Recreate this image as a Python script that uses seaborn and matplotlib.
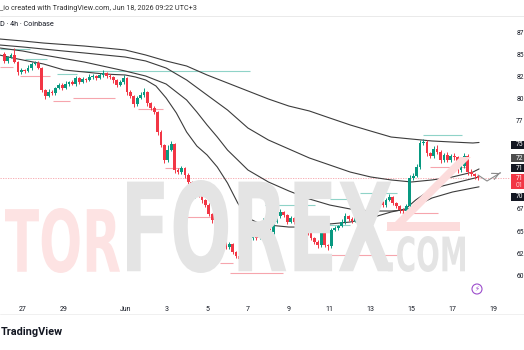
import numpy as np
import pandas as pd
import matplotlib
matplotlib.use("Agg")
import matplotlib.pyplot as plt
import seaborn as sns
from matplotlib.textpath import TextPath
from matplotlib.font_manager import FontProperties
from matplotlib.patches import PathPatch, Rectangle, Polygon, Circle
from matplotlib.transforms import Affine2D, IdentityTransform
from matplotlib.lines import Line2D

# ---------------- data (x in days since May 27 00:00, 4h candles start May 26 00:00) ----------
first_open = 85.11
closes = [
    84.32, 84.77, 85.00, 84.20, 83.07, 83.30, 83.18, 83.52, 83.98, 84.09,
    83.52, 81.02, 80.34, 80.80, 80.68, 81.25, 81.59, 81.25, 81.70, 81.93,
    81.70, 82.39, 81.93, 82.27, 82.16, 82.50, 82.61, 82.39, 82.73, 82.95,
    82.61, 82.50, 82.16, 81.59, 81.93, 82.39, 80.80, 80.34, 79.43, 80.11,
    80.45, 80.80, 79.55, 78.98, 78.52, 76.25, 74.77, 73.07, 74.20, 74.89,
    71.93, 71.70, 72.16, 71.36, 70.57, 68.98, 69.43, 69.09, 68.52, 67.95,
    66.93, 66.25, 65.80, 64.43, 63.98, 63.18, 63.52, 62.61, 62.16, 61.82,
    62.16, 63.41, 64.20, 64.43, 64.20, 64.89, 66.14, 65.11, 64.89, 66.02,
    66.70, 67.16, 66.82, 66.02, 66.48, 66.02, 64.43, 64.20, 65.34, 64.77,
    64.20, 63.75, 63.41, 65.23, 63.41, 63.30, 65.11, 65.34, 65.57, 66.02,
    66.70, 66.36, 66.14, 66.70, 66.93, 67.16, 66.93, 67.27, 67.61, 67.95,
    68.30, 67.95, 68.52, 68.86, 68.18, 67.84, 67.39, 67.27, 67.84, 71.02,
    71.25, 72.27, 75.00, 75.11, 73.86, 73.52, 74.32, 73.98, 73.07, 73.64,
    73.07, 73.52, 73.41, 71.93, 72.39, 73.52, 71.70, 71.48, 71.25, 71.02,
]
upper_wick = [
    0.25, 0.15, 0.20, 0.80, 0.15, 0.20, 0.15, 0.30, 0.20, 0.25,
    0.20, 0.15, 0.10, 0.30, 0.20, 0.15, 0.25, 0.20, 0.30, 0.15,
    0.20, 0.25, 0.15, 0.20, 0.15, 0.30, 0.20, 0.15, 0.25, 0.35,
    0.15, 0.20, 0.10, 0.15, 0.25, 0.30, 0.15, 0.20, 0.10, 0.25,
    0.35, 0.45, 0.15, 0.10, 0.20, 0.15, 0.20, 0.10, 0.55, 0.35,
    0.15, 0.20, 0.25, 0.15, 0.20, 0.15, 0.30, 0.20, 0.15, 0.10,
    0.20, 0.15, 0.10, 0.20, 0.15, 0.20, 0.25, 0.15, 0.10, 0.20,
    0.30, 0.25, 0.20, 0.15, 0.20, 0.25, 0.30, 0.15, 0.20, 0.30,
    0.25, 0.35, 0.15, 0.10, 0.25, 0.15, 0.10, 0.20, 0.30, 0.15,
    0.10, 0.15, 0.20, 0.35, 0.10, 0.15, 0.20, 0.25, 0.15, 0.30,
    0.30, 0.15, 0.20, 0.25, 0.20, 0.25, 0.15, 0.20, 0.30, 0.25,
    0.30, 0.15, 0.20, 0.35, 0.10, 0.15, 0.10, 0.20, 0.25, 0.30,
    0.35, 0.40, 0.30, 0.35, 0.20, 0.15, 0.30, 0.40, 0.20, 0.25,
    0.30, 0.25, 0.35, 0.15, 0.45, 0.40, 0.20, 0.30, 0.15, 0.10,
]
lower_wick = [
    0.20, 0.25, 0.15, 0.15, 0.30, 0.20, 0.25, 0.15, 0.20, 0.15,
    0.15, 0.20, 0.30, 0.15, 0.20, 0.25, 0.15, 0.20, 0.15, 0.25,
    0.15, 0.20, 0.25, 0.15, 0.20, 0.15, 0.20, 0.25, 0.15, 0.20,
    0.25, 0.20, 0.30, 0.25, 0.15, 0.20, 0.35, 0.20, 0.30, 0.20,
    0.15, 0.20, 0.30, 0.25, 0.20, 0.30, 0.25, 0.30, 0.20, 0.15,
    0.30, 0.25, 0.20, 0.30, 0.25, 0.35, 0.20, 0.25, 0.30, 0.20,
    0.25, 0.30, 0.20, 0.25, 0.30, 0.20, 0.25, 0.20, 0.25, 0.30,
    0.45, 0.20, 0.15, 0.25, 0.20, 0.15, 0.20, 0.25, 0.30, 0.20,
    0.15, 0.20, 0.25, 0.20, 0.15, 0.25, 0.20, 0.30, 0.15, 0.25,
    0.20, 0.25, 0.30, 0.20, 0.25, 0.45, 0.20, 0.15, 0.20, 0.15,
    0.20, 0.25, 0.20, 0.15, 0.20, 0.15, 0.25, 0.20, 0.15, 0.20,
    0.15, 0.25, 0.20, 0.15, 0.20, 0.25, 0.30, 0.50, 0.20, 0.15,
    0.20, 0.15, 0.20, 0.25, 0.30, 0.25, 0.20, 0.25, 0.30, 0.20,
    0.25, 0.20, 0.30, 0.35, 0.25, 0.20, 0.30, 0.25, 0.30, 0.20,
]

# moving-average lines (day, price)
ema_a_day = [-1.15, 0, 1, 2, 3, 4, 5, 6, 7, 8, 9, 10, 11, 12, 13, 14, 15, 16, 17, 18, 19, 20, 21, 22, 22.3]
ema_a_val = [86.82, 86.59, 86.36, 86.19, 86.02, 85.80, 85.57, 85.00, 84.32, 83.75, 82.73, 81.82, 80.91,
             80.00, 79.20, 78.64, 77.84, 77.05, 76.36, 75.68, 75.45, 75.23, 75.11, 75.00, 75.06]
ema_b_day = [-1.15, 0, 1, 2, 3, 4, 5, 6, 7, 8, 9, 10, 11, 12, 13, 14, 15, 16, 17, 18, 19, 20, 21, 22, 22.3]
ema_b_val = [86.14, 85.91, 85.68, 85.45, 85.23, 85.00, 84.77, 84.32, 83.52, 82.16, 80.45, 78.75, 76.70,
             75.34, 74.32, 73.30, 72.50, 71.70, 71.14, 70.80, 70.57, 70.80, 71.14, 71.70, 72.05]
ema_c_day = [-1.15, 0, 1, 2, 3, 4, 5, 6, 7, 8, 8.5, 9, 9.5, 10, 10.5, 11, 12, 13, 14, 15, 16, 17, 18,
             18.7, 19.2, 20, 21, 22, 22.3]
ema_c_val = [85.80, 85.45, 85.00, 84.60, 84.20, 83.69, 83.18, 82.61, 81.70, 79.89, 78.52, 77.05, 75.68,
             74.20, 73.07, 71.93, 70.57, 69.55, 68.64, 67.95, 67.50, 67.27, 67.27, 67.39, 67.84, 68.75,
             69.43, 69.89, 70.02]
ema_d_day = [-1.15, -0.5, 0, 0.5, 1, 1.5, 2, 2.5, 3, 3.5, 4, 4.5, 5, 5.5, 6, 6.5, 7, 7.5, 8, 8.5, 9,
             9.5, 10, 10.5, 11, 11.5, 12, 13, 14, 14.5, 15, 16, 17, 18, 18.7, 19.2, 19.7, 20.5, 21.5, 22.3]
ema_d_val = [85.00, 84.66, 84.43, 84.20, 83.98, 83.64, 83.30, 83.18, 83.07, 82.95, 82.84, 82.78, 82.73,
             82.50, 82.16, 81.48, 80.11, 78.41, 76.25, 74.66, 73.64, 72.27, 70.45, 68.18, 66.48, 65.91,
             65.68, 65.45, 65.45, 65.57, 65.80, 66.02, 66.48, 67.16, 67.50, 68.52, 69.32, 70.11, 70.68,
             71.14]

# horizontal high / low levels (start day, end day, price)
high_levels = [(-1.13, 0.34, 85.72), (0.10, 1.17, 84.55), (1.66, 2.64, 82.84), (2.64, 11.10, 83.18),
               (11.25, 11.83, 66.02), (11.83, 14.28, 67.95), (14.52, 16.00, 65.68),
               (15.00, 16.48, 68.64), (16.48, 18.29, 69.32), (19.56, 21.46, 75.91)]
low_levels = [(-1.13, -0.49, 83.64), (-0.15, 1.32, 82.61), (1.47, 2.30, 79.77), (2.44, 4.50, 80.11),
              (5.62, 6.85, 78.86), (6.94, 7.68, 72.16), (7.92, 9.14, 66.59), (9.63, 10.27, 61.36),
              (10.12, 12.71, 60.23), (14.77, 18.29, 62.27), (18.53, 20.29, 67.05), (19.90, 21.76, 72.27)]

x_tick_days = [0, 2, 5, 7, 9, 11, 13, 15, 17, 19, 21, 23]
x_tick_labels = ["27", "29", "Jun", "3", "5", "7", "9", "11", "13", "15", "17", "19"]
y_ticks = [60.0, 62.5, 65.0, 67.5, 77.5, 80.0, 82.5, 85.0, 87.5]

# ---------------- figure ----------------
sns.set_theme(style="white")
plt.rcParams["font.family"] = ["Roboto", "DejaVu Sans"]

W, H = 524, 350
fig = plt.figure(figsize=(W / 100, H / 100), dpi=100)
fig.patch.set_facecolor("white")
ax = fig.add_axes([0, 50 / H, 510 / W, 283 / H])
ax.set_facecolor("none")
X0 = -1.125
X1 = X0 + 510 / 20.45
ax.set_xlim(X0, X1)
ax.set_ylim(91.25 - 300 / 8.8, 91.25 - 17 / 8.8)
for s in ax.spines.values():
    s.set_visible(False)
ax.grid(False)

PX = IdentityTransform()

def fy(y):
    return H - y

# watermark (behind everything)
def fit_text(s, x0, x1, ytop, ybot, color, z=0.3):
    fp = FontProperties(family="DejaVu Sans", weight="bold")
    tp = TextPath((0, 0), s, size=100, prop=fp)
    bb = tp.get_extents()
    tr = Affine2D().translate(-bb.x0, -bb.y0).scale((x1 - x0) / bb.width, (ybot - ytop) / bb.height) \
        .translate(x0, fy(ybot))
    patch = PathPatch(tr.transform_path(tp), fc=color, ec="none", transform=PX, zorder=z)
    fig.add_artist(patch)

fit_text("TOR", 5, 120, 208, 273, "#fde3e3")
fit_text("FOREX", 127, 392, 180, 273, "#e4e4e4")
fit_text(".COM", 388, 465, 236, 272, "#e4e4e4")
fig.add_artist(Polygon([(387, fy(222)), (460, fy(222)), (460, fy(231)), (387, fy(231))],
                       closed=True, fc="#fcdcdc", ec="none", transform=PX, zorder=0.35))
fig.add_artist(Polygon([(386, fy(231)), (397, fy(231)), (471, fy(157)), (460, fy(157))],
                       closed=True, fc="#fcdcdc", ec="none", transform=PX, zorder=0.35))

# last price dotted line
last_close = closes[-1]
ax.axhline(last_close, color="#f7a1a8", lw=0.6, ls=(0, (1.5, 1.5)), zorder=1)

# levels
for a, b, v in high_levels:
    ax.hlines(v, a, b, color="#8fd3c8", lw=0.8, zorder=1.5)
for a, b, v in low_levels:
    ax.hlines(v, a, b, color="#f6a5ad", lw=0.8, zorder=1.5)

# moving averages via seaborn
for dd, vv in [(ema_a_day, ema_a_val), (ema_b_day, ema_b_val), (ema_c_day, ema_c_val), (ema_d_day, ema_d_val)]:
    df = pd.DataFrame({"day": dd, "val": vv})
    sns.lineplot(data=df, x="day", y="val", ax=ax, color="#3c3c3c", lw=0.8, sort=False,
                 estimator=None, zorder=2)

# candles
n = len(closes)
opens = [first_open] + closes[:-1]
xs = np.array([-1 + i / 6 + 1 / 12 for i in range(n)])
o = np.array(opens); c = np.array(closes)
hi = np.maximum(o, c) + np.array(upper_wick)
lo = np.minimum(o, c) - np.array(lower_wick)
cols = np.where(c >= o, "#089981", "#f23645")
ax.vlines(xs, lo, hi, colors=cols, lw=0.7, zorder=3)
body = np.where(np.abs(c - o) < 0.07, 0.07, c - o)
ax.bar(xs, body, bottom=o, width=0.135, color=cols, edgecolor="none", zorder=4)

# projection arrow drawing
ax.plot([22.25, 22.69, 23.35], [71.36, 70.68, 71.62], color="#8a8a8a", lw=0.8, zorder=3)
ax.annotate("", xy=(23.45, 71.72), xytext=(23.2, 71.45),
            arrowprops=dict(arrowstyle="->", color="#8a8a8a", lw=0.8))

# axes ticks (right-hand price scale is cut by the image edge: only the integer part shows)
ax.set_xticks(x_tick_days)
ax.set_xticklabels(x_tick_labels)
ax.tick_params(axis="x", length=0, pad=4, labelsize=5, labelcolor="#131722")
ax.yaxis.tick_right()
ax.set_yticks(y_ticks)
ax.set_yticklabels([f"{int(v)}" for v in y_ticks])
ax.tick_params(axis="y", length=0, pad=4.5, labelsize=4.8, labelcolor="#131722")
for t in ax.get_yticklabels():
    t.set_horizontalalignment("left")
ax.set_xlabel("")
ax.set_ylabel("")

# price boxes on the right
boxes = [(145, f"{int(ema_a_val[-1])}", "#131722"), (158, f"{int(ema_b_val[-1])}", "#4d4d4d"),
         (168, f"{int(ema_d_val[-1])}", "#131722"), (196.5, f"{int(ema_c_val[-1])}", "#131722")]
for yc, txt, colr in boxes:
    fig.add_artist(Rectangle((511, fy(yc + 4)), 20, 8, fc=colr, ec="none", transform=PX, zorder=6))
    fig.text(515.5, fy(yc), txt, transform=PX, color="white", fontsize=4.8, va="center", ha="left", zorder=7)
fig.add_artist(Rectangle((511, fy(189)), 20, 15, fc="#f23645", ec="none", transform=PX, zorder=6))
fig.text(515.5, fy(178), f"{int(last_close)}", transform=PX, color="white", fontsize=4.8, va="center", zorder=7)
fig.text(515.5, fy(185.5), "01", transform=PX, color="#ffd0d4", fontsize=4.8, va="center", zorder=7)

# header and footer
fig.add_artist(Line2D([0, W], [fy(16), fy(16)], color="#e6e6e6", lw=0.6, transform=PX))
fig.add_artist(Line2D([0, W], [fy(314), fy(314)], color="#eeeeee", lw=0.6, transform=PX))
fig.text(0.5, fy(8), "_io created with TradingView.com, Jun 18, 2026 09:22 UTC+3", transform=PX,
         fontsize=5.2, color="#333333", va="center", ha="left")
fig.text(0.5, fy(24.5), "D · 4h · Coinbase", transform=PX, fontsize=5.2, color="#131722",
         va="center", ha="left")
fig.text(0.5, fy(332), "TradingView", transform=PX, fontsize=7.8, fontweight="bold",
         color="#131722", va="center", ha="left")

# purple assistant icon
fig.add_artist(Circle((477, fy(289)), 5, fc="none", ec="#9c4dcc", lw=0.8, transform=PX))
fig.text(477, fy(289), "⚡", transform=PX, fontsize=5, color="#9c4dcc", ha="center", va="center",
         family=["DejaVu Sans"])

fig.savefig("out.png", dpi=100, facecolor="white")
